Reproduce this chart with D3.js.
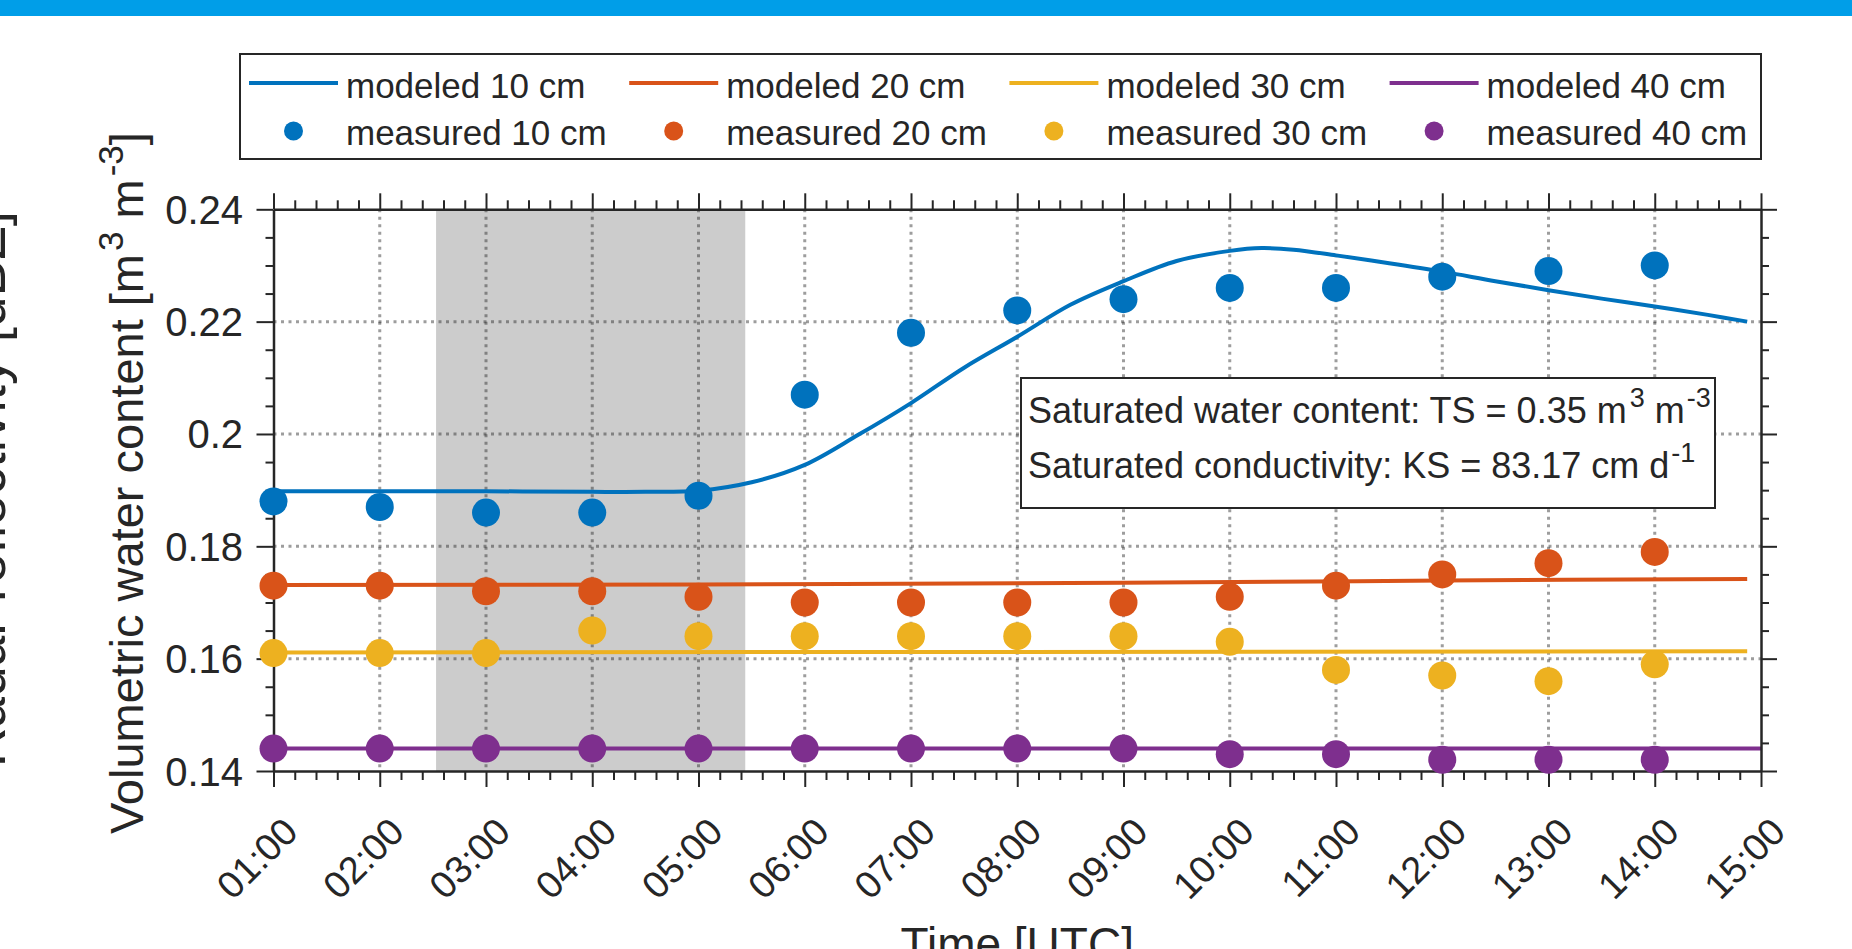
<!DOCTYPE html>
<html>
<head>
<meta charset="utf-8">
<script src="https://cdn.jsdelivr.net/npm/d3@7"></script>
<style>
  html, body { margin: 0; padding: 0; background: #fff; }
  svg { display: block; font-family: "Liberation Sans", Arial, Helvetica, sans-serif; }
</style>
</head>
<body>
<div id="chart"></div>
<script>
// Datos medidos (cada hora)
const hours = [1, 2, 3, 4, 5, 6, 7, 8, 9, 10, 11, 12, 13, 14];
const measured10 = [0.188, 0.187, 0.186, 0.186, 0.189, 0.207, 0.218, 0.222, 0.224, 0.226, 0.226, 0.228, 0.229, 0.230];
const measured20 = [0.173, 0.173, 0.172, 0.172, 0.171, 0.170, 0.170, 0.170, 0.170, 0.171, 0.173, 0.175, 0.177, 0.179];
const measured30 = [0.161, 0.161, 0.161, 0.165, 0.164, 0.164, 0.164, 0.164, 0.164, 0.163, 0.158, 0.157, 0.156, 0.159];
const measured40 = [0.144, 0.144, 0.144, 0.144, 0.144, 0.144, 0.144, 0.144, 0.144, 0.143, 0.143, 0.142, 0.142, 0.142];

// Datos modelados
const model10Hours = [1, 2, 3, 4, 4.5, 5, 5.5, 6, 6.5, 7, 7.5, 8, 8.5, 9, 9.5, 10, 10.3, 10.6, 11, 11.5, 12, 12.5, 13, 13.5, 14, 14.5, 14.87];
const modeled10 = [0.1898, 0.1898, 0.1898, 0.1897, 0.1897, 0.1899, 0.1914, 0.1945, 0.1998, 0.2055, 0.2118, 0.2173, 0.2230, 0.2272, 0.2308, 0.2326, 0.2331, 0.2328, 0.2318, 0.2304, 0.2289, 0.2272, 0.2256, 0.2241, 0.2227, 0.2212, 0.2200];
const model20Hours = [1, 5, 9, 12, 14.87];
const modeled20 = [0.1731, 0.1732, 0.1735, 0.1739, 0.1742];
const model30Hours = [1, 14.87];
const modeled30 = [0.1611, 0.1613];
const model40Hours = [1, 15];
const modeled40 = [0.1440, 0.1440];

const depths = ["10 cm", "20 cm", "30 cm", "40 cm"];
const colors = ["#0072BD", "#D95319", "#EDB120", "#7E2F8E"];

const xTicks = [1, 2, 3, 4, 5, 6, 7, 8, 9, 10, 11, 12, 13, 14, 15];
const yTicks = [0.14, 0.16, 0.18, 0.2, 0.22, 0.24];
const shadeStart = 2.53, shadeEnd = 5.44;

const textTS = ["Saturated water content: TS = 0.35 m", "3", " m", "-3"];
const textKS = ["Saturated conductivity: KS = 83.17 cm d", "-1"];

//Lienzo
const W = 1852, H = 949;
const ink = "#262626";
const svg = d3.select("#chart").append("svg")
  .attr("width", W)
  .attr("height", H);

svg.append("rect")
  .attr("x", 0).attr("y", 0)
  .attr("width", W).attr("height", 16)
  .attr("fill", "#009ee8");

const x = d3.scaleLinear().domain([1, 15]).range([273.5, 1761]);
const y = d3.scaleLinear().domain([0.14, 0.24]).range([771, 209.3]);

// etiqueta cortada del panel vecino
svg.append("text")
  .attr("transform", "translate(5," + 489 + ") rotate(-90)")
  .attr("text-anchor", "middle")
  .attr("font-size", 55)
  .attr("fill", ink)
  .text("Radar reflectivity [dBZ]");

// zona sombreada
svg.append("rect")
  .attr("x", x(shadeStart))
  .attr("y", y(0.24))
  .attr("width", x(shadeEnd) - x(shadeStart))
  .attr("height", y(0.14) - y(0.24))
  .attr("fill", "#cccccc");

// rejilla
const grid = svg.append("g")
  .attr("stroke", ink)
  .attr("stroke-opacity", 0.45)
  .attr("stroke-width", 3)
  .attr("stroke-dasharray", "3,4.5");

grid.selectAll(".gx")
  .data(xTicks.slice(1, -1))
  .enter().append("line")
  .attr("x1", d => x(d)).attr("x2", d => x(d))
  .attr("y1", y(0.24)).attr("y2", y(0.14));

grid.selectAll(".gy")
  .data(yTicks.slice(1, -1))
  .enter().append("line")
  .attr("x1", x(1)).attr("x2", x(15))
  .attr("y1", d => y(d)).attr("y2", d => y(d));

// lineas modeladas
const line = d3.line()
  .x(d => x(d[0]))
  .y(d => y(d[1]))
  .curve(d3.curveCatmullRom.alpha(0.5));

const models = [
  d3.zip(model10Hours, modeled10),
  d3.zip(model20Hours, modeled20),
  d3.zip(model30Hours, modeled30),
  d3.zip(model40Hours, modeled40)
];

svg.selectAll(".model")
  .data(models)
  .enter().append("path")
  .attr("class", "model")
  .attr("d", line)
  .attr("fill", "none")
  .attr("stroke", (d, i) => colors[i])
  .attr("stroke-width", 4);

// ejes
const minorX = d3.range(1, 15.001, 0.2).filter(d => Math.abs(d - Math.round(d)) > 0.01);
const minorY = d3.range(0.14, 0.2401, 0.005).filter(d => Math.abs(d * 50 - Math.round(d * 50)) > 0.01);

function styleAxis(g) {
  g.attr("font-family", null).attr("font-size", null);
  g.select(".domain").attr("stroke", ink).attr("stroke-width", 2.5);
  g.selectAll(".tick line").attr("stroke", ink).attr("stroke-width", 2);
  g.selectAll(".tick text").attr("fill", ink);
}

function minorAxis(axis, values, size, transform) {
  svg.append("g")
    .attr("transform", transform)
    .call(axis.tickValues(values).tickSize(size).tickSizeOuter(0).tickFormat(""))
    .call(styleAxis)
    .call(g => g.select(".domain").remove());
}

const bottomAxis = svg.append("g")
  .attr("transform", "translate(0," + y(0.14) + ")")
  .call(d3.axisBottom(x).tickValues(xTicks).tickSize(16).tickSizeOuter(0)
    .tickFormat(h => d3.format("02d")(h) + ":00"))
  .call(styleAxis);

bottomAxis.selectAll(".tick text")
  .attr("font-size", 38)
  .attr("x", 26).attr("y", 63).attr("dy", 0)
  .attr("text-anchor", "end")
  .attr("transform", "rotate(-45,26,63)");

svg.append("g")
  .attr("transform", "translate(0," + y(0.24) + ")")
  .call(d3.axisTop(x).tickValues(xTicks).tickSize(16).tickSizeOuter(0).tickFormat(""))
  .call(styleAxis);

const leftAxis = svg.append("g")
  .attr("transform", "translate(" + x(1) + ",0)")
  .call(d3.axisLeft(y).tickValues(yTicks).tickSize(17).tickPadding(13.5).tickSizeOuter(0)
    .tickFormat(d3.format("")))
  .call(styleAxis);

leftAxis.selectAll(".tick text")
  .attr("font-size", 40)
  .attr("dy", "0.35em");

svg.append("g")
  .attr("transform", "translate(" + x(15) + ",0)")
  .call(d3.axisRight(y).tickValues(yTicks).tickSize(16).tickSizeOuter(0).tickFormat(""))
  .call(styleAxis);

minorAxis(d3.axisBottom(x), minorX, 9, "translate(0," + y(0.14) + ")");
minorAxis(d3.axisTop(x), minorX, 9, "translate(0," + y(0.24) + ")");
minorAxis(d3.axisLeft(y), minorY, 8, "translate(" + x(1) + ",0)");
minorAxis(d3.axisRight(y), minorY, 8, "translate(" + x(15) + ",0)");

// puntos medidos
const measured = [measured10, measured20, measured30, measured40];

measured.forEach(function (values, i) {
  svg.append("g")
    .selectAll("circle")
    .data(d3.zip(hours, values))
    .enter().append("circle")
    .attr("cx", d => x(d[0]))
    .attr("cy", d => y(d[1]))
    .attr("r", 14)
    .attr("fill", colors[i]);
});

// cuadro de texto
svg.append("rect")
  .attr("x", 1021).attr("y", 378)
  .attr("width", 694).attr("height", 130)
  .attr("fill", "#fff")
  .attr("stroke", ink)
  .attr("stroke-width", 2);

const note1 = svg.append("text")
  .attr("x", 1028).attr("y", 423)
  .attr("font-size", 36)
  .attr("fill", ink);
note1.append("tspan").text(textTS[0]);
note1.append("tspan").attr("dx", 3).attr("dy", -16).attr("font-size", 27).text(textTS[1]);
note1.append("tspan").attr("dy", 16).text(textTS[2]);
note1.append("tspan").attr("dx", 2).attr("dy", -16).attr("font-size", 27).text(textTS[3]);

const note2 = svg.append("text")
  .attr("x", 1028).attr("y", 478)
  .attr("font-size", 36)
  .attr("fill", ink);
note2.append("tspan").text(textKS[0]);
note2.append("tspan").attr("dx", 2).attr("dy", -16).attr("font-size", 27).text(textKS[1]);

// leyenda
const legend = svg.append("g");
legend.append("rect")
  .attr("x", 240).attr("y", 54)
  .attr("width", 1521).attr("height", 105)
  .attr("fill", "#fff")
  .attr("stroke", ink)
  .attr("stroke-width", 2);

const colW = 380.2;
const item = legend.selectAll(".item")
  .data(depths)
  .enter().append("g")
  .attr("transform", (d, i) => "translate(" + (249 + i * colW) + ",0)");

item.append("line")
  .attr("x1", 0).attr("x2", 89)
  .attr("y1", 83).attr("y2", 83)
  .attr("stroke", (d, i) => colors[i])
  .attr("stroke-width", 4);

item.append("circle")
  .attr("cx", 44.5).attr("cy", 131)
  .attr("r", 9.5)
  .attr("fill", (d, i) => colors[i]);

item.append("text")
  .attr("x", 97).attr("y", 98)
  .attr("font-size", 35)
  .attr("fill", ink)
  .text(d => "modeled " + d);

item.append("text")
  .attr("x", 97).attr("y", 145)
  .attr("font-size", 35)
  .attr("fill", ink)
  .text(d => "measured " + d);

// titulos de ejes
const yLabel = svg.append("text")
  .attr("transform", "translate(143," + 483 + ") rotate(-90)")
  .attr("text-anchor", "middle")
  .attr("font-size", 47)
  .attr("fill", ink);
yLabel.append("tspan").text("Volumetric water content [m");
yLabel.append("tspan").attr("dx", 3).attr("dy", -20).attr("font-size", 35).text("3");
yLabel.append("tspan").attr("dy", 20).text(" m");
yLabel.append("tspan").attr("dx", 3).attr("dy", -20).attr("font-size", 35).text("-3");
yLabel.append("tspan").attr("dy", 20).text("]");

svg.append("text")
  .attr("x", (x(1) + x(15)) / 2)
  .attr("y", 960)
  .attr("text-anchor", "middle")
  .attr("font-size", 46)
  .attr("fill", ink)
  .text("Time [UTC]");
</script>
</body>
</html>
